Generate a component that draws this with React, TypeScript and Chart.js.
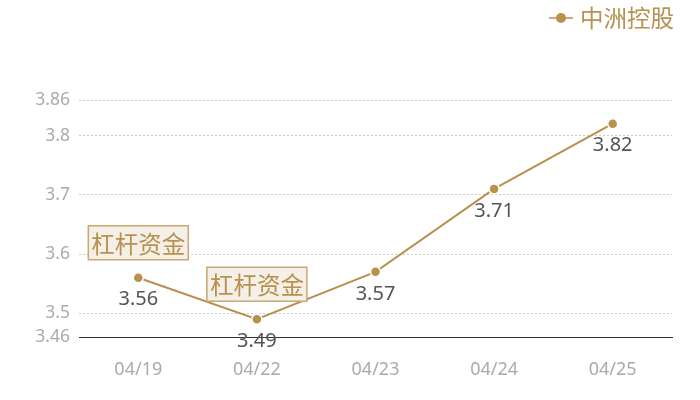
import React, { useEffect, useRef } from 'react';
import { Chart, registerables } from 'chart.js';
import type { Plugin } from 'chart.js';

Chart.register(...registerables);

const dates = ['04/19', '04/22', '04/23', '04/24', '04/25'];
const prices = [3.56, 3.49, 3.57, 3.71, 3.82];
const yTicks = [3.46, 3.5, 3.6, 3.7, 3.8, 3.86];
const seriesName = '中洲控股';
const tagText = '杠杆资金';
const tagIndexes = [0, 1];

const GOLD = '#b8914f';
const NUM_FONT = '"Noto Sans", "Noto Sans CJK SC", sans-serif';
const CJK_FONT = '"Noto Sans CJK SC", "Noto Sans", sans-serif';

// labels under points, tag boxes above, legend in the top right corner
const overlayPlugin: Plugin<'line'> = {
  id: 'overlay',
  afterDatasetsDraw(chart) {
    const ctx = chart.ctx;
    const meta = chart.getDatasetMeta(0);
    ctx.save();

    ctx.fillStyle = '#555';
    ctx.font = `20px ${NUM_FONT}`;
    ctx.textAlign = 'center';
    ctx.textBaseline = 'middle';
    meta.data.forEach((pt, i) => {
      ctx.fillText(prices[i].toFixed(2), pt.x, pt.y + 22);
    });

    tagIndexes.forEach((i) => {
      const pt = meta.data[i];
      const w = 100;
      const h = 34;
      const x = pt.x - w / 2;
      const y = pt.y - 18 - h;
      ctx.fillStyle = '#f4efe7';
      ctx.fillRect(x, y, w, h);
      ctx.strokeStyle = '#c9a874';
      ctx.lineWidth = 1.5;
      ctx.strokeRect(x, y, w, h);
      ctx.fillStyle = GOLD;
      ctx.font = `23.5px ${CJK_FONT}`;
      ctx.fillText(tagText, pt.x, y + h / 2 + 1);
    });

    // legend
    ctx.strokeStyle = GOLD;
    ctx.lineWidth = 1.5;
    ctx.beginPath();
    ctx.moveTo(549, 18);
    ctx.lineTo(573, 18);
    ctx.stroke();
    ctx.fillStyle = GOLD;
    ctx.beginPath();
    ctx.arc(561, 18, 5, 0, Math.PI * 2);
    ctx.fill();
    ctx.font = `23.5px ${CJK_FONT}`;
    ctx.textAlign = 'left';
    ctx.fillText(seriesName, 580, 18);

    ctx.restore();
  },
};

const App: React.FC = () => {
  const canvasRef = useRef<HTMLCanvasElement | null>(null);

  useEffect(() => {
    document.body.style.margin = '0';
    if (!canvasRef.current) return;

    const chart = new Chart(canvasRef.current, {
      type: 'line',
      data: {
        labels: dates,
        datasets: [
          {
            label: seriesName,
            data: prices,
            borderColor: GOLD,
            borderWidth: 2,
            backgroundColor: GOLD,
            pointBackgroundColor: GOLD,
            pointBorderColor: '#fff',
            pointBorderWidth: 1.5,
            pointRadius: 5,
            tension: 0,
          },
        ],
      },
      options: {
        responsive: false,
        animation: false,
        layout: { padding: { top: 100, right: 28, left: 0, bottom: 0 } },
        plugins: {
          legend: { display: false },
          tooltip: { enabled: false },
        },
        scales: {
          x: {
            offset: true,
            grid: { display: false, drawTicks: false },
            border: { display: true, color: '#333', width: 1 },
            ticks: {
              color: '#aaa',
              font: { size: 18, family: NUM_FONT },
              padding: 22,
            },
            afterFit: (scale) => {
              scale.height = 63;
            },
          },
          y: {
            min: 3.46,
            max: 3.86,
            afterBuildTicks: (scale) => {
              scale.ticks = yTicks.map((v) => ({ value: v }));
            },
            grid: {
              color: (c) => (c.tick && c.tick.value === 3.46 ? 'rgba(0,0,0,0)' : '#cccccc'),
              drawTicks: false,
            },
            border: { display: false, dash: [2, 2] },
            ticks: {
              color: '#aaa',
              font: { size: 17.5, family: NUM_FONT },
              padding: 9,
              callback: (v) => String(Number(v)),
            },
            afterFit: (scale) => {
              scale.width = 79;
            },
          },
        },
      },
      plugins: [overlayPlugin],
    });

    return () => {
      chart.destroy();
    };
  }, []);

  return (
    <div style={{ width: 700, height: 400, background: '#fff' }}>
      <canvas ref={canvasRef} width={700} height={400}></canvas>
    </div>
  );
};

export default App;
